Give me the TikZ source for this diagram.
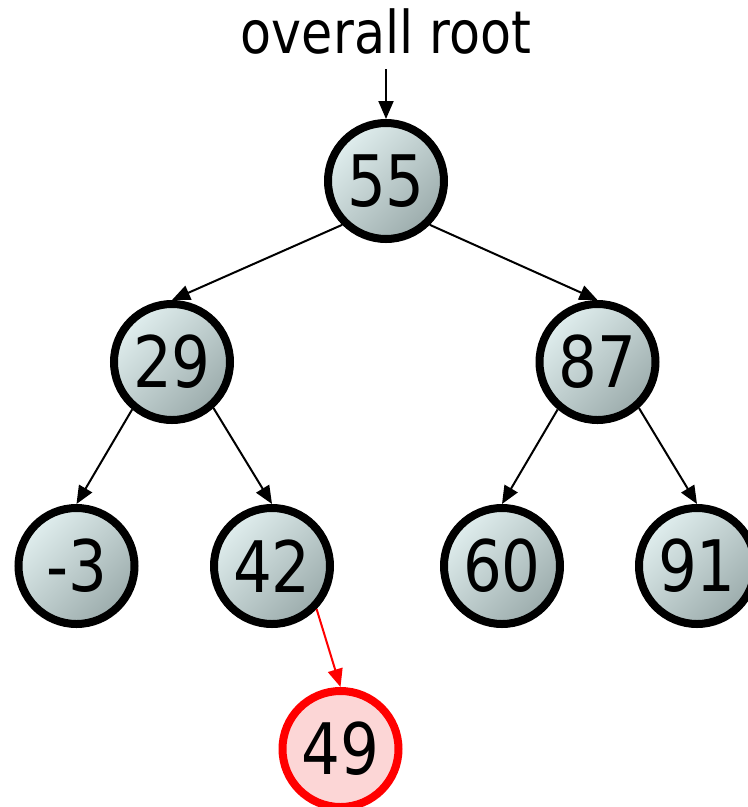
\documentclass[tikz,border=0pt]{standalone}
\usepackage{fontspec}
\setmainfont{DejaVu Sans}[FakeStretch=0.86]
\usetikzlibrary{arrows.meta}
\definecolor{nlight}{RGB}{224,238,238}
\definecolor{ndark}{RGB}{156,172,172}
\definecolor{rfill}{RGB}{252,214,214}
\definecolor{rline}{RGB}{255,0,0}
\tikzset{
  bstnode/.style={circle, draw=black, line width=8pt, minimum size=116pt, inner sep=0pt,
    top color=nlight, bottom color=ndark, shading angle=45,
    font=\fontsize{71}{71}\selectfont},
  newnode/.style={circle, draw=rline, line width=8pt, minimum size=116pt, inner sep=0pt,
    fill=rfill, font=\fontsize{71}{71}\selectfont},
  arr/.style={line width=2pt, -{Triangle[length=18pt,width=15pt]}},
  redarr/.style={arr, draw=rline, fill=rline}
}
\begin{document}
\begin{tikzpicture}[x=1pt,y=-1pt]
\useasboundingbox (0,0) rectangle (748,807);
\clip (0,0) rectangle (748,807);
\node[anchor=base, inner xsep=0pt, inner ysep=15pt, font=\fontsize{59}{59}\selectfont] (lbl) at (386,53) {overall root};
\node[bstnode] (n55) at (386,181) {55};
\node[bstnode] (n29) at (172,362) {29};
\node[bstnode] (n87) at (597.5,362) {87};
\node[bstnode] (nm3) at (76.5,566) {-3};
\node[bstnode] (n42) at (272,566) {42};
\node[bstnode] (n60) at (502,566) {60};
\node[bstnode] (n91) at (697,566) {91};
\node[newnode] (n49) at (340.5,749) {49};
\draw[arr] (lbl.south) -- (n55.north);
\draw[arr] (n55.225) -- (n29.north);
\draw[arr] (n55.-45) -- (n87.north);
\draw[arr] (n29.230) -- (nm3.north);
\draw[arr] (n29.-48) -- (n42.north);
\draw[arr] (n87.230) -- (n60.north);
\draw[arr] (n87.-48) -- (n91.north);
\draw[redarr] (n42.-44) -- (n49.north);
\end{tikzpicture}
\end{document}
